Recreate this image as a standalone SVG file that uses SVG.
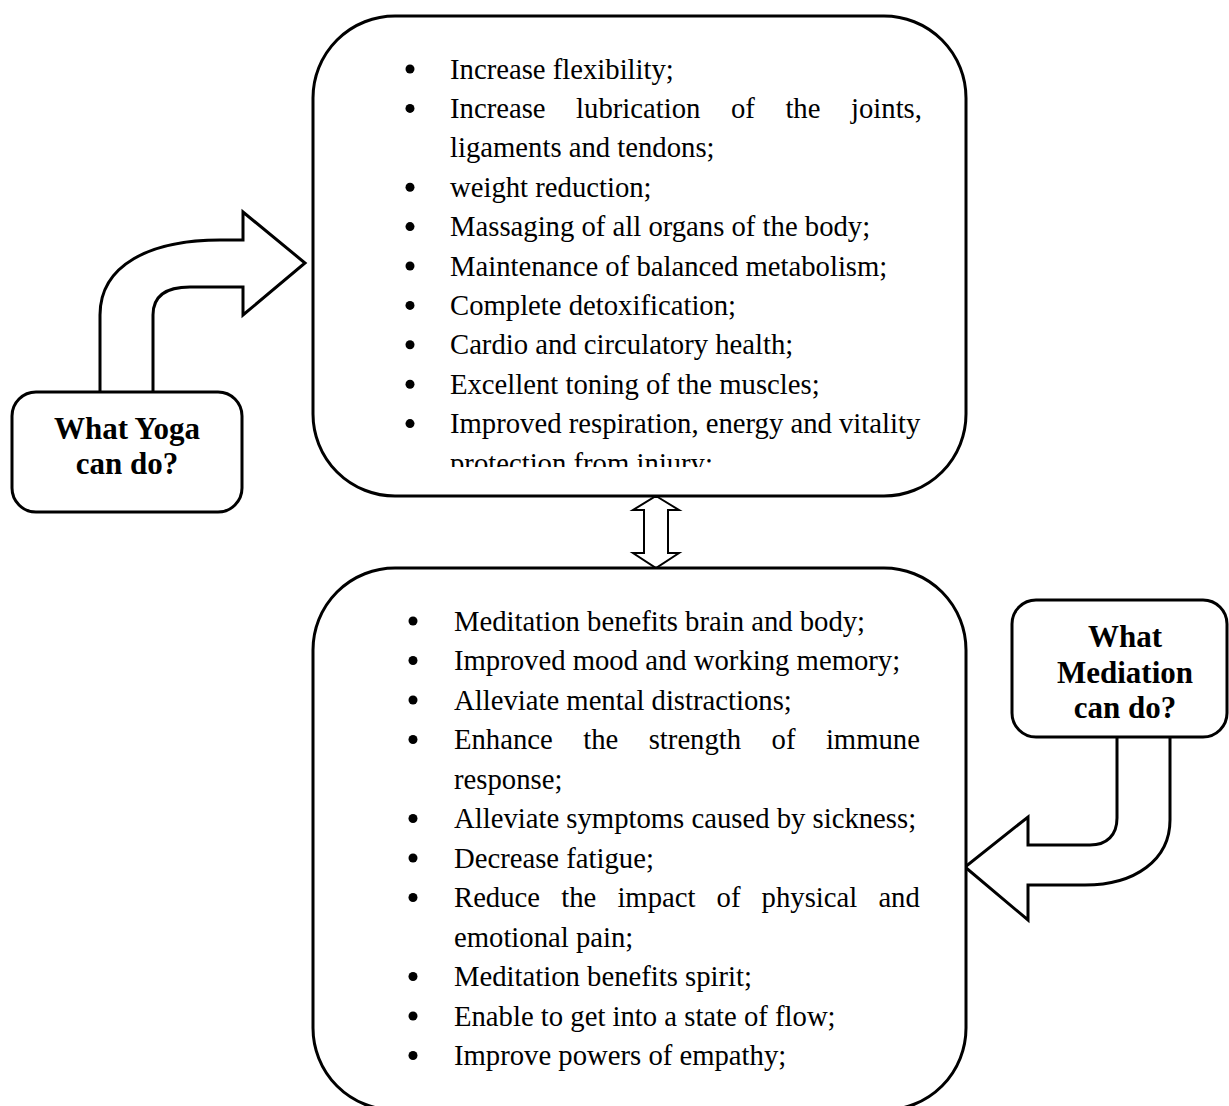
<svg xmlns="http://www.w3.org/2000/svg" width="1229" height="1106" viewBox="0 0 1229 1106">
<style>
.box{fill:#fff;stroke:#000;stroke-width:3}
.arr{fill:#fff;stroke:#000;stroke-width:3;stroke-linejoin:miter}
.list{font-family:"Liberation Serif","Times New Roman",serif;font-size:28.7px;fill:#000}
.lbl{font-family:"Liberation Serif","Times New Roman",serif;font-size:31px;font-weight:bold;fill:#000;text-anchor:middle}
.b{fill:#000}
</style>
<defs>
<clipPath id="clipTop"><rect x="313" y="16" width="653" height="451"/></clipPath>
</defs>
<rect width="1229" height="1106" fill="#fff"/>
<g id="connectors">
<path class="arr" d="M100,392 L100,315 C100,265 150,240 220,240 L243,240 L243,212 L305,263 L243,315 L243,287 L190,287 C165,287 153,297 153,315 L153,392"/>
<path class="arr" d="M1117,737 L1117,818 C1117,835 1107,845 1090,845 L1028,845 L1028,817 L965,867 L1028,920 L1028,885 L1085,885 C1135,885 1170,860 1170,820 L1170,737"/>
<path class="arr" style="stroke-width:2" d="M656,496 L679,510 L668,510 L668,553 L679,553 L656,568 L633,553 L644,553 L644,510 L633,510 Z"/>
</g>
<g id="yoga-benefits">
<rect class="box" x="313" y="16" width="653" height="480" rx="82" ry="82"/>
<g clip-path="url(#clipTop)">
<circle class="b" cx="410" cy="69" r="4.5"/><text class="list" x="450" y="78.5">Increase flexibility;</text>
<circle class="b" cx="410" cy="108.4" r="4.5"/><text class="list" y="117.9"><tspan x="450">Increase</tspan><tspan x="576.1">lubrication</tspan><tspan x="731">of</tspan><tspan x="785.4">the</tspan><tspan x="851">joints,</tspan></text>
<text class="list" x="450" y="157.3">ligaments and tendons;</text>
<circle class="b" cx="410" cy="187.2" r="4.5"/><text class="list" x="450" y="196.7">weight reduction;</text>
<circle class="b" cx="410" cy="226.6" r="4.5"/><text class="list" x="450" y="236.1">Massaging of all organs of the body;</text>
<circle class="b" cx="410" cy="266" r="4.5"/><text class="list" x="450" y="275.5">Maintenance of balanced metabolism;</text>
<circle class="b" cx="410" cy="305.4" r="4.5"/><text class="list" x="450" y="314.9">Complete detoxification;</text>
<circle class="b" cx="410" cy="344.8" r="4.5"/><text class="list" x="450" y="354.3">Cardio and circulatory health;</text>
<circle class="b" cx="410" cy="384.2" r="4.5"/><text class="list" x="450" y="393.7">Excellent toning of the muscles;</text>
<circle class="b" cx="410" cy="423.6" r="4.5"/><text class="list" x="450" y="433.1">Improved respiration, energy and vitality</text>
<text class="list" x="450" y="472.5">protection from injury;</text>
</g>
</g>
<g id="meditation-benefits">
<rect class="box" x="313" y="568" width="653" height="542" rx="82" ry="82"/>
<circle class="b" cx="413" cy="621" r="4.5"/><text class="list" x="454" y="630.5">Meditation benefits brain and body;</text>
<circle class="b" cx="413" cy="660.5" r="4.5"/><text class="list" x="454" y="670">Improved mood and working memory;</text>
<circle class="b" cx="413" cy="700" r="4.5"/><text class="list" x="454" y="709.5">Alleviate mental distractions;</text>
<circle class="b" cx="413" cy="739.5" r="4.5"/><text class="list" y="749"><tspan x="454">Enhance</tspan><tspan x="583.2">the</tspan><tspan x="648.7">strength</tspan><tspan x="771.6">of</tspan><tspan x="825.9">immune</tspan></text>
<text class="list" x="454" y="788.5">response;</text>
<circle class="b" cx="413" cy="818.5" r="4.5"/><text class="list" x="454" y="828">Alleviate symptoms caused by sickness;</text>
<circle class="b" cx="413" cy="858" r="4.5"/><text class="list" x="454" y="867.5">Decrease fatigue;</text>
<circle class="b" cx="413" cy="897.5" r="4.5"/><text class="list" y="907"><tspan x="454">Reduce</tspan><tspan x="561.2">the</tspan><tspan x="617.4">impact</tspan><tspan x="716.6">of</tspan><tspan x="761.6">physical</tspan><tspan x="878.4">and</tspan></text>
<text class="list" x="454" y="946.5">emotional pain;</text>
<circle class="b" cx="413" cy="976.5" r="4.5"/><text class="list" x="454" y="986">Meditation benefits spirit;</text>
<circle class="b" cx="413" cy="1016" r="4.5"/><text class="list" x="454" y="1025.5">Enable to get into a state of flow;</text>
<circle class="b" cx="413" cy="1055.5" r="4.5"/><text class="list" x="454" y="1065">Improve powers of empathy;</text>
</g>
<g id="yoga-label">
<rect class="box" x="12" y="392" width="230" height="120" rx="24" ry="24"/>
<text class="lbl" x="127" y="439">What Yoga</text>
<text class="lbl" x="127" y="474">can do?</text>
</g>
<g id="meditation-label">
<rect class="box" x="1012" y="600" width="215" height="137" rx="24" ry="24"/>
<text class="lbl" x="1125" y="647">What</text>
<text class="lbl" x="1125" y="683">Mediation</text>
<text class="lbl" x="1125" y="718">can do?</text>
</g>
</svg>
